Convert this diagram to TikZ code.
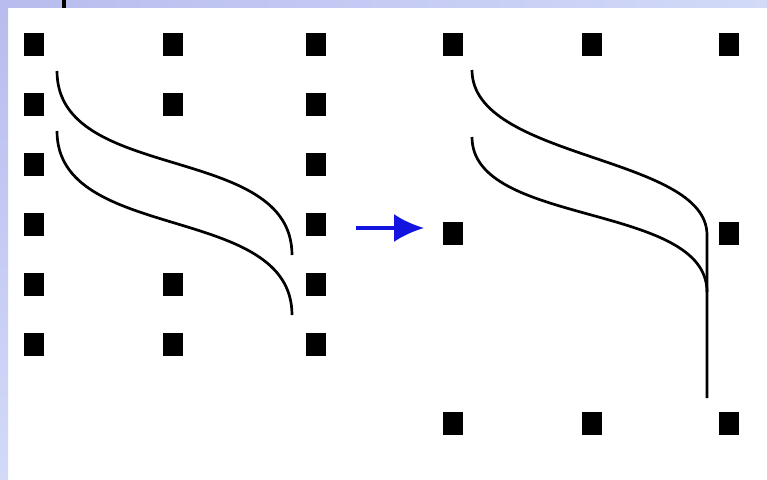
\documentclass[tikz,border=0pt]{standalone}
\usepackage{xcolor}
\usepackage{tikz}
\usetikzlibrary{shapes, arrows.meta}
\definecolor{bandL}{HTML}{B8BCEE}
\definecolor{bandR}{HTML}{D2DAF8}
\definecolor{arrowblue}{HTML}{1414E0}
\tikzstyle{padsq} = [draw=none, fill=black, rectangle, minimum width=20pt, minimum height=23pt, inner sep=0pt]
\tikzstyle{wire} = [line width=2.7pt]

\begin{document}
\begin{tikzpicture}[x=1pt, y=-1pt, node distance=60pt, >={Latex[length=30pt,width=28pt]}]
    % 背景和边条
    \useasboundingbox [fill=white] (0,0) rectangle (767,479);
    \shade [left color=bandL, right color=bandR] (0,0) rectangle (767,7.5);
    \shade [top color=bandL, bottom color=bandR] (0,0) rectangle (8,479);
    \fill (62,0) rectangle (66,8);

    % 左图引脚
    \node [padsq] (L1) at (34,44) {};
    \node [padsq, below of=L1] (L2) {};
    \node [padsq, below of=L2] (L3) {};
    \node [padsq, below of=L3] (L4) {};
    \node [padsq, below of=L4] (L5) {};
    \node [padsq, below of=L5] (L6) {};
    \node [padsq, right of=L1, node distance=139pt] (M1) {};
    \node [padsq, below of=M1] (M2) {};
    \node [padsq, below of=M2, node distance=180pt] (M5) {};
    \node [padsq, below of=M5] (M6) {};
    \node [padsq, right of=L1, node distance=282pt] (R1) {};
    \node [padsq, below of=R1] (R2) {};
    \node [padsq, below of=R2] (R3) {};
    \node [padsq, below of=R3] (R4) {};
    \node [padsq, below of=R4] (R5) {};
    \node [padsq, below of=R5] (R6) {};

    % 右图引脚
    \node [padsq] (A1) at (453,44) {};
    \node [padsq, right of=A1, node distance=139pt] (A2) {};
    \node [padsq, right of=A1, node distance=276pt] (A3) {};
    \node [padsq, below of=A1, node distance=189pt] (B1) {};
    \node [padsq, below of=A3, node distance=189pt] (B3) {};
    \node [padsq, below of=B1, node distance=190pt] (C1) {};
    \node [padsq, below of=A2, node distance=379pt] (C2) {};
    \node [padsq, below of=B3, node distance=190pt] (C3) {};

    % 连线端点
    \coordinate (a0) at (57,71);
    \coordinate (a1) at (292,255);
    \coordinate (b0) at (57,131);
    \coordinate (b1) at (292,315);
    \coordinate (c0) at (472,70);
    \coordinate (c1) at (707,235);
    \coordinate (d0) at (472,137);
    \coordinate (d1) at (707,292);
    \coordinate (e1) at (707,398);
    \coordinate (arr0) at (356,228);
    \coordinate (arr1) at (424,228);

    \draw [wire] (a0) .. controls +(0,113) and +(0,-113) .. (a1);
    \draw [wire] (b0) .. controls +(0,113) and +(0,-113) .. (b1);
    \draw [wire] (c0) .. controls +(0,90) and +(0,-80) .. (c1) -- (e1);
    \draw [wire] (d0) .. controls +(0,90) and +(0,-90) .. (d1);
    \draw [->, arrowblue, line width=3.5pt] (arr0) -- (arr1);
\end{tikzpicture}
\end{document}
